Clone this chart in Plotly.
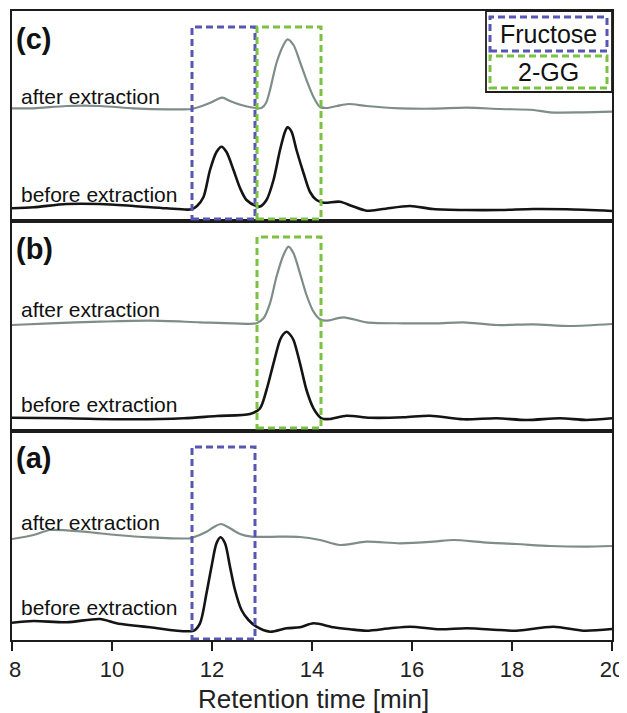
import plotly.graph_objects as go
from plotly.subplots import make_subplots

# ---------------- data (retention time [min], detector signal [a.u.]) ----------------
# Panel (c): fructose + 2-GG mixture
c_after_t = [8.0, 8.43, 9.09, 9.76, 10.43, 11.09, 11.59, 11.8, 12.0, 12.1, 12.21, 12.36, 12.55, 12.7,
             12.88, 12.99, 13.08, 13.16, 13.29, 13.43, 13.51, 13.63, 13.76, 13.89, 14.03, 14.16, 14.29,
             14.5, 14.73, 15.09, 15.76, 16.42, 17.09, 17.76, 18.43, 18.76, 19.43, 20.0]
c_after_s = [112.7, 112.7, 115, 115, 112.7, 111.7, 112, 115, 119, 121.5, 123.3, 120, 116.5, 114.5,
             113, 113, 118, 131, 158, 176, 181.7, 176, 159, 141, 124, 114, 113,
             115, 117, 115, 112.7, 112.3, 113.3, 112, 111, 108.7, 108.7, 109.3]

c_before_t = [8.0, 8.43, 9.09, 9.76, 10.43, 11.09, 11.59, 11.7, 11.83, 11.96, 12.09, 12.19, 12.29, 12.43,
              12.56, 12.69, 12.89, 12.96, 13.09, 13.23, 13.36, 13.46, 13.51, 13.59, 13.69, 13.83, 13.96,
              14.09, 14.23, 14.56, 14.8, 15.09, 15.42, 15.96, 16.42, 17.09, 17.76, 18.43, 19.09, 20.0]
c_before_s = [12.7, 13.7, 17, 17, 15, 12.7, 11.7, 15, 24, 51, 69, 74.3, 69, 51,
              33, 21, 15, 14.5, 21, 41, 71, 89.3, 93.7, 89.3, 71, 48, 29,
              21, 18.3, 19.3, 15, 10.3, 12, 15, 12, 11, 11, 12, 11.7, 10]

# Panel (b): 2-GG
b_after_t = [8.0, 8.76, 9.76, 10.76, 11.76, 12.43, 12.89, 13.03, 13.16, 13.29, 13.43, 13.53, 13.63, 13.76,
             13.89, 14.03, 14.16, 14.29, 14.63, 15.09, 15.83, 16.49, 17.03, 17.69, 18.43, 19.16, 20.0]
b_after_s = [106, 107.7, 109.3, 110.3, 108.7, 107.7, 107.7, 112.7, 127.7, 154.3, 176, 184.3, 177.7, 157.7,
             136, 119.3, 111.7, 110.3, 113.7, 108.7, 107.7, 107.7, 108.7, 106, 106.7, 105, 107]

b_before_t = [8.0, 9.09, 10.43, 11.43, 12.09, 12.76, 12.96, 13.09, 13.23, 13.36, 13.43, 13.49, 13.56, 13.63,
              13.76, 13.89, 14.03, 14.19, 14.36, 14.69, 15.16, 15.83, 16.36, 17.03, 17.69, 18.29, 18.96,
              19.49, 20.0]
b_before_s = [13.3, 12.7, 11.7, 12.7, 15, 17, 22.7, 41, 67.7, 91, 97, 99.3, 96.5, 91,
              67.7, 41, 22.7, 12.7, 12, 15.3, 13.3, 13.7, 15.3, 11.7, 12.7, 11, 12.7,
              11, 12.7]

# Panel (a): fructose
a_after_t = [8.0, 8.43, 8.76, 9.43, 10.09, 10.76, 11.56, 11.63, 11.89, 12.03, 12.18, 12.36, 12.56, 12.79,
             13.36, 13.76, 14.16, 14.56, 15.09, 15.76, 16.43, 16.83, 17.43, 18.09, 18.76, 19.43, 20.0]
a_after_s = [101, 105, 110, 108.3, 105, 102.7, 101.7, 102.7, 108.3, 112.7, 116, 111.7, 106, 103.3,
             103.3, 103, 100, 95, 98.3, 96.7, 98.3, 100, 97.7, 96, 94, 93.3, 94]

a_before_t = [8.0, 8.43, 9.09, 9.76, 10.09, 10.76, 11.63, 11.76, 11.89, 11.99, 12.09, 12.17, 12.26, 12.36,
              12.46, 12.59, 12.73, 12.89, 13.16, 13.49, 13.76, 14.03, 14.43, 14.76, 15.09, 15.56, 15.96,
              16.56, 17.09, 17.76, 18.09, 18.83, 19.43, 20.0]
a_before_s = [17.3, 19, 17.7, 21, 16.7, 12.7, 9.3, 16.7, 46.7, 73.3, 96.7, 102.7, 96.7, 73.3,
              50, 30, 20, 13.3, 8.3, 11.7, 12.7, 16.7, 12.7, 10.7, 9.3, 11.7, 13.3,
              10.7, 11.7, 10, 9.3, 13.3, 9.3, 11]

x_ticks = [8, 10, 12, 14, 16, 18, 20]
x_title = "Retention time [min]"
panel_labels = ["(c)", "(b)", "(a)"]
legend_labels = ["Fructose", "2-GG"]

# highlighted retention windows [min]
fructose_window = [11.6, 12.86]
gg_window = [12.9, 14.18]

# ---------------- figure ----------------
# The page body has an 8px default margin, so the figure is made 8px smaller
# and every reference pixel position is shifted by OFF.
OFF = 8
W, H = 627 - OFF, 713 - OFF
PL, PR, PT, PB = 12, 612, 11, 640          # plot area in reference pixels
ML, MR, MT, MB = PL - OFF, 627 - PR, PT - OFF, 713 - PB

fig = make_subplots(rows=3, cols=1, shared_xaxes=True, vertical_spacing=0)

AFTER_C = "#7e8d89"
BEFORE_C = "#141414"
BLUE = "#5757b3"
GREEN = "#7cc242"
AX = "#1c1c1c"
FONT = "Liberation Sans, Arial, sans-serif"
TICK_FONT = dict(family=FONT, size=22, color="#222")

panels = [
    (c_after_t, c_after_s, c_before_t, c_before_s),
    (b_after_t, b_after_s, b_before_t, b_before_s),
    (a_after_t, a_after_s, a_before_t, a_before_s),
]
for i, (at, av, bt, bv) in enumerate(panels, start=1):
    fig.add_trace(go.Scatter(x=at, y=av, mode="lines", line=dict(color=AFTER_C, width=2.2, shape="spline", smoothing=0.8),
                             showlegend=False, hoverinfo="skip"), row=i, col=1)
    fig.add_trace(go.Scatter(x=bt, y=bv, mode="lines", line=dict(color=BEFORE_C, width=2.6, shape="spline", smoothing=0.8),
                             showlegend=False, hoverinfo="skip"), row=i, col=1)

plot_h = PB - PT
def px(x):
    return (x - PL) / (PR - PL)
def py(y):
    return (PB - y) / plot_h

bounds = [(11, 221), (221, 431), (431, 640)]
for i, (top, bot) in enumerate(bounds, start=1):
    yname = "yaxis" if i == 1 else f"yaxis{i}"
    fig.layout[yname].update(domain=[max(0, py(bot)), min(1, py(top))], range=[0, bot - top], showticklabels=False,
                             ticks="", showgrid=False, zeroline=False, showline=True, mirror=True,
                             linecolor=AX, linewidth=1.8, fixedrange=True, automargin=False)
    xname = "xaxis" if i == 1 else f"xaxis{i}"
    fig.layout[xname].update(range=[8, 20], showgrid=False, zeroline=False, showline=True, mirror=True,
                             linecolor=AX, linewidth=1.8, fixedrange=True, automargin=False)

fig.update_xaxes(showticklabels=False, ticks="", row=1, col=1)
fig.update_xaxes(showticklabels=False, ticks="", row=2, col=1)
# the first tick label sits at the page edge; it is drawn as an annotation so it is not clipped
tick_text = ["" if t == x_ticks[0] else str(t) for t in x_ticks]
fig.update_xaxes(tickmode="array", tickvals=x_ticks, ticktext=tick_text,
                 ticks="outside", ticklen=9, tickwidth=1.8, tickcolor=AX, ticklabeloverflow="allow",
                 tickfont=TICK_FONT, row=3, col=1)

dash = "7px,4px"
shapes = []
def box(xr, yref, y0, y1, color):
    shapes.append(dict(type="rect", xref="x", yref=yref, x0=xr[0], x1=xr[1], y0=y0, y1=y1,
                       line=dict(color=color, width=3, dash=dash), layer="above"))

box(fructose_window, "y", 2, 194, BLUE)
box(gg_window, "y", 2, 194, GREEN)
box(gg_window, "y2", 3, 194, GREEN)
box(fructose_window, "y3", 1, 193, BLUE)

shapes.append(dict(type="rect", xref="paper", yref="paper", x0=px(486), x1=px(612), y0=py(92), y1=py(11),
                   line=dict(color=AX, width=1.8), fillcolor="white", layer="above"))
shapes.append(dict(type="rect", xref="paper", yref="paper", x0=px(490), x1=px(607), y0=py(51), y1=py(17),
                   line=dict(color=BLUE, width=3, dash=dash), layer="above"))
shapes.append(dict(type="rect", xref="paper", yref="paper", x0=px(490), x1=px(607), y0=py(88), y1=py(56),
                   line=dict(color=GREEN, width=3, dash=dash), layer="above"))
fig.update_layout(shapes=shapes)

ann = []
for lab, (xp, yp) in zip(legend_labels, [(548.5, 34), (548.5, 72)]):
    ann.append(dict(text=lab, xref="paper", yref="paper", x=px(xp), y=py(yp), showarrow=False,
                    xanchor="center", yanchor="middle", font=dict(family=FONT, size=25, color="#111")))

# first tick label
ann.append(dict(text=str(x_ticks[0]), xref="x3", yref="paper", x=x_ticks[0], y=py(669), xshift=-5,
                showarrow=False, xanchor="left", yanchor="middle", font=TICK_FONT))

# x-axis title
ann.append(dict(text=x_title, xref="paper", yref="paper", x=px(313), y=py(699), showarrow=False,
                xanchor="center", yanchor="middle", font=dict(family=FONT, size=26, color="#222")))

yrefs = ["y", "y2", "y3"]
after_y = [124.5, 122, 118]
before_y = [27, 27, 33]
label_y = [182, 182.5, 182]
for i in range(3):
    ann.append(dict(text=panel_labels[i], xref="x", yref=yrefs[i], x=8.04, y=label_y[i], showarrow=False,
                    xanchor="left", yanchor="middle", font=dict(family=FONT, size=29, color="#111", weight="bold")))
    ann.append(dict(text="after extraction", xref="x", yref=yrefs[i], x=8.14, y=after_y[i], showarrow=False,
                    xanchor="left", yanchor="middle", font=dict(family=FONT, size=21, color="#111")))
    ann.append(dict(text="before extraction", xref="x", yref=yrefs[i], x=8.14, y=before_y[i], showarrow=False,
                    xanchor="left", yanchor="middle", font=dict(family=FONT, size=21, color="#111")))
fig.update_layout(annotations=ann)

fig.update_layout(width=W, height=H, margin=dict(l=ML, r=MR, t=MT, b=MB, autoexpand=False),
                  paper_bgcolor="white", plot_bgcolor="white", font=dict(family=FONT))

fig.write_html("out.html")
